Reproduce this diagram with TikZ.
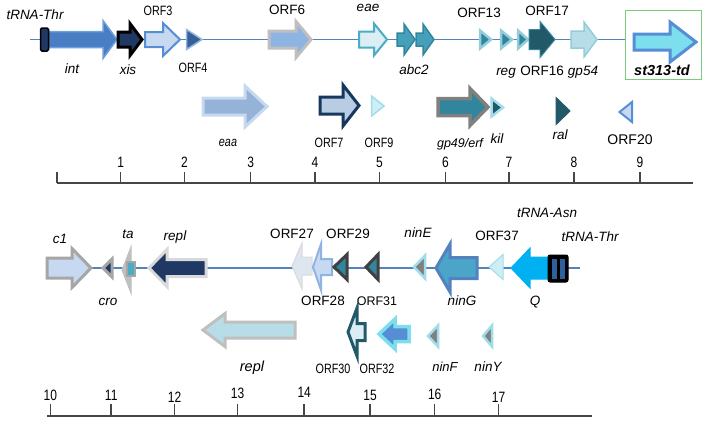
\documentclass[tikz,border=0pt]{standalone}
\usepackage{fontspec}
\setmainfont{Liberation Sans}
\usepackage{tikz}
\usetikzlibrary{calc}
\definecolor{lineblue}{RGB}{84,130,190}
\definecolor{navy}{RGB}{31,56,100}
\definecolor{intblue}{RGB}{74,126,196}
\definecolor{intedge}{RGB}{110,160,220}
\definecolor{palecorn}{RGB}{198,217,241}
\definecolor{medblue}{RGB}{85,142,213}
\definecolor{orfdark}{RGB}{55,96,150}
\definecolor{cornflower}{RGB}{141,180,226}
\definecolor{gray75}{RGB}{191,191,191}
\definecolor{gray65}{RGB}{166,166,166}
\definecolor{gray85}{RGB}{217,217,217}
\definecolor{gray50}{RGB}{128,128,128}
\definecolor{gray25}{RGB}{64,64,64}
\definecolor{paleteal}{RGB}{218,238,243}
\definecolor{tealA}{RGB}{75,172,198}
\definecolor{tealB}{RGB}{70,160,185}
\definecolor{tealC}{RGB}{49,133,156}
\definecolor{skyteal}{RGB}{146,205,220}
\definecolor{darkteal}{RGB}{33,89,104}
\definecolor{lightteal}{RGB}{183,222,232}
\definecolor{cyanlight}{RGB}{125,222,238}
\definecolor{boxgreen}{RGB}{120,205,120}
\definecolor{eaablue}{RGB}{149,179,215}
\definecolor{orfnavy}{RGB}{23,55,94}
\definecolor{orfpale}{RGB}{184,204,228}
\definecolor{paleaqua}{RGB}{205,238,245}
\definecolor{aquaedge}{RGB}{160,220,235}
\definecolor{ningfill}{RGB}{75,165,200}
\definecolor{qblue}{RGB}{0,176,240}
\definecolor{trnabar}{RGB}{46,95,158}
\definecolor{orfgray}{RGB}{222,230,240}
\definecolor{axisgray}{RGB}{70,70,70}
\tikzstyle{bbline}=[draw=lineblue,line width=1.3]
\tikzstyle{axisline}=[draw=axisgray,line width=1.5]
\tikzstyle{gene}=[font=\fontsize{13.5}{15}\selectfont\itshape,inner sep=0pt,text height=9.7pt,text depth=0pt]
\tikzstyle{orf}=[font=\fontsize{13.5}{15}\selectfont,inner sep=0pt,text height=9.7pt,text depth=0pt]
\tikzstyle{num}=[font=\fontsize{15}{17}\selectfont,inner sep=0pt,text height=10.7pt,text depth=0pt]
% narrow label text
\newcommand{\slim}[1]{\scalebox{0.8}[1]{#1}}
% arrow: style, tail x, head x, tip x, mid y, body half, head half
\newcommand{\genearrow}[7]{%
  \draw[#1] (#2,#5-#6) -- (#3,#5-#6) -- (#3,#5-#7) -- (#4,#5) -- (#3,#5+#7) -- (#3,#5+#6) -- (#2,#5+#6) -- cycle;}
% triangle: style, base x, tip x, mid y, half
\newcommand{\genetri}[5]{%
  \draw[#1] (#2,#4-#5) -- (#3,#4) -- (#2,#4+#5) -- cycle;}
\begin{document}
\begin{tikzpicture}[x=1pt,y=-1pt]
    \useasboundingbox (0,0) rectangle (706,424);

    % draw top row
    \coordinate (top0) at (30,39.5);
    \coordinate (top1) at (625,39.5);
    \draw[bbline] (top0) -- (top1);
    \genearrow{fill=intblue,draw=intedge,line width=1.5}{47}{103}{117}{39.5}{8}{19}
    \draw[fill=navy,draw=black,line width=1.5,rounded corners=1.5] (40.5,28) rectangle (48.5,51);
    \genearrow{fill=navy,draw=black,line width=3}{118}{130}{142}{39.5}{7.5}{16}
    \genearrow{fill=palecorn,draw=medblue,line width=2}{145}{163}{180}{39.5}{7.5}{16.5}
    \genetri{fill=orfdark,draw=cornflower,line width=1.5}{186.5}{202}{39.5}{10}
    \genearrow{fill=cornflower,draw=gray75,line width=3}{269}{296}{311}{39.5}{8.5}{18}
    \genearrow{fill=paleteal,draw=tealA,line width=2}{359}{374}{387}{39.5}{8}{16}
    \genearrow{fill=tealB,draw=tealC,line width=1.5}{397}{404}{415}{39.5}{6.5}{15.5}
    \genearrow{fill=tealB,draw=tealC,line width=1.5}{416}{423}{434}{39.5}{6.5}{15.5}
    \genetri{fill=tealC,draw=skyteal,line width=2.5}{480}{491}{39.5}{9}
    \genetri{fill=tealC,draw=skyteal,line width=2.5}{501}{512}{39.5}{9}
    \genetri{fill=tealC,draw=skyteal,line width=2.5}{518}{528}{39.5}{9}
    \genearrow{fill=darkteal,draw=tealC,line width=1}{529}{540}{555}{39.5}{10}{18}
    \genearrow{fill=lightteal,draw=skyteal,line width=1.5}{571}{584}{597}{39.5}{8.5}{17.5}
    \draw[draw=boxgreen,line width=1.5] (625.5,10.5) rectangle (701.5,79.5);
    \genearrow{fill=cyanlight,draw=medblue,line width=3}{634}{670}{696}{42}{8}{20}

    \node[gene] (trnathr1) at (35,15) {tRNA-Thr};
    \node[gene] (int) at (72,69) {int};
    \node[gene] (xis) at (128,70) {xis};
    \node[orf] (orf3) at (158,11) {\slim{ORF3}};
    \node[orf] (orf4) at (193,68) {\slim{ORF4}};
    \node[orf] (orf6) at (287,10) {ORF6};
    \node[gene] (eae) at (368,7) {eae};
    \node[gene] (abc2) at (414,70) {abc2};
    \node[orf] (orf13) at (479,12.5) {ORF13};
    \node[gene] (reg) at (506,71) {reg};
    \node[orf] (orf16) at (542,71) {ORF16};
    \node[orf] (orf17) at (547,11) {ORF17};
    \node[gene] (gp54) at (583,71) {gp54};
    \node[gene,font=\fontsize{14.5}{16}\selectfont\bfseries\itshape] (st313td) at (662,71) {st313-td};

    % draw second row
    \genearrow{fill=eaablue,draw=palecorn,line width=3}{203}{245}{267}{106.5}{8.5}{20.5}
    \genearrow{fill=orfpale,draw=orfnavy,line width=3}{320}{343}{359}{105.5}{8.5}{20.5}
    \genetri{fill=paleaqua,draw=aquaedge,line width=1.5}{371.5}{384}{106}{10}
    \genearrow{fill=tealC,draw=gray50,line width=3.5}{438}{470}{488}{107}{8.5}{18.5}
    \genetri{fill=darkteal,draw=aquaedge,line width=2.5}{491.5}{503}{107.5}{9}
    \genetri{fill=darkteal,draw=darkteal,line width=1}{556}{570}{111}{13.5}
    \genetri{fill=palecorn,draw=medblue,line width=2}{632}{619.5}{112}{10}

    \node[gene] (eaa) at (228,142) {\slim{eaa}};
    \node[orf] (orf7) at (329,143) {\slim{ORF7}};
    \node[orf] (orf9) at (379,143) {\slim{ORF9}};
    \node[gene,font=\fontsize{12.5}{14}\selectfont\itshape] (gp49) at (460,143) {gp49/erf};
    \node[gene] (kil) at (497,139) {kil};
    \node[gene] (ral) at (560,135) {ral};
    \node[orf,font=\fontsize{14}{16}\selectfont] (orf20) at (630,140) {ORF20};

    % draw first scale
    \coordinate (ax0) at (57,183);
    \coordinate (ax1) at (693,183);
    \draw[axisline] (ax0) -- (ax1);
    \draw[axisline] (57,172) -- (ax0);
    \foreach \x/\n in {120.6/1,184.5/2,250.7/3,315/4,379.4/5,445.5/6,509/7,574/8,640/9} {
        \draw[axisline] (\x,172) -- (\x,183);
        \node[num] (n\n) at (\x,162) {\slim{\n}};
    }

    % draw bottom row
    \coordinate (bot0) at (50,268);
    \coordinate (bot1) at (580,268);
    \draw[bbline] (bot0) -- (bot1);
    \genearrow{fill=palecorn,draw=gray65,line width=3}{47}{72}{91}{268}{10}{19.5}
    \genetri{fill=navy,draw=gray65,line width=3}{112}{103}{268}{9}
    \genetri{fill=gray75,draw=gray75,line width=1}{131}{122}{270}{23}
    \draw[fill=tealA,draw=gray65,line width=2] (127,262) rectangle (135,276);
    \genearrow{fill=navy,draw=gray85,line width=3}{206}{167}{149}{268}{8.5}{18.5}
    \genearrow{fill=orfgray,draw=gray85,line width=1}{312}{302}{292}{266}{9}{23}
    \genearrow{fill=palecorn,draw=cornflower,line width=2}{332}{321}{313}{267}{8}{23}
    \genetri{fill=tealC,draw=gray25,line width=3}{347}{334}{267}{12.5}
    \genetri{fill=tealC,draw=gray25,line width=3}{378}{366}{267}{12.5}
    \genetri{fill=gray50,draw=aquaedge,line width=2.5}{425}{414}{267}{11.5}
    \genearrow{fill=ningfill,draw=lineblue,line width=3}{477}{450}{436}{268}{10.5}{24}
    \genetri{fill=paleaqua,draw=aquaedge,line width=1}{503}{489}{267}{12.5}
    \genearrow{fill=qblue,draw=qblue,line width=1}{548}{530}{511}{268}{11}{20}
    \draw[fill=black,draw=black,line width=1,rounded corners=2] (548,255) rectangle (568,282);
    \draw[fill=trnabar,draw=trnabar] (552,259) rectangle (556,278);
    \draw[fill=trnabar,draw=trnabar] (560,259) rectangle (564,278);

    \node[gene] (c1) at (60,239) {c1};
    \node[gene] (cro) at (108,301) {cro};
    \node[gene] (ta) at (128,234) {ta};
    \node[gene] (repl1) at (175,236) {repl};
    \node[orf] (orf27) at (292,234) {ORF27};
    \node[orf] (orf28) at (323,301) {ORF28};
    \node[orf] (orf29) at (348,234) {ORF29};
    \node[orf,font=\fontsize{12.5}{14}\selectfont] (orf31) at (377,301) {ORF31};
    \node[gene] (nine) at (418,233) {ninE};
    \node[gene] (ning) at (462,301) {ninG};
    \node[orf] (orf37) at (497,236) {ORF37};
    \node[gene] (q) at (535,301) {Q};
    \node[gene] (trnathr2) at (590,237) {tRNA-Thr};
    \node[gene] (trnaasn) at (547,213) {tRNA-Asn};

    % draw lower row
    \genearrow{fill=lightteal,draw=gray75,line width=3}{295}{225}{203}{330}{8}{16.5}
    \genearrow{fill=paleteal,draw=darkteal,line width=3}{365}{357}{348}{332}{8.5}{24}
    \genearrow{fill=medblue,draw=cyanlight,line width=3.5}{409}{395}{379}{334}{7.5}{15}
    \genetri{fill=gray50,draw=aquaedge,line width=2.5}{438}{428}{336}{10.5}
    \genetri{fill=gray50,draw=aquaedge,line width=2.5}{492}{483}{336}{10.5}

    \node[gene,font=\fontsize{14.5}{16}\selectfont\itshape] (repl2) at (252,367) {repl};
    \node[orf] (orf30) at (333,369) {\slim{ORF30}};
    \node[orf] (orf32) at (377,369) {\slim{ORF32}};
    \node[gene,font=\fontsize{13}{15}\selectfont\itshape] (ninf) at (445,367) {ninF};
    \node[gene] (niny) at (488,367) {ninY};

    % draw second scale
    \coordinate (bx0) at (47,416);
    \coordinate (bx1) at (592,416);
    \draw[axisline] (bx0) -- (bx1);
    \foreach \x/\n/\ly in {50.4/10/395,111.2/11/395,174.6/12/397,237.6/13/393,304.2/14/392,370/15/395,434.7/16/394,498.6/17/397} {
        \draw[axisline] (\x,404) -- (\x,416);
        \node[num] (n\n) at (\x,\ly) {\slim{\n}};
    }
\end{tikzpicture}
\end{document}
